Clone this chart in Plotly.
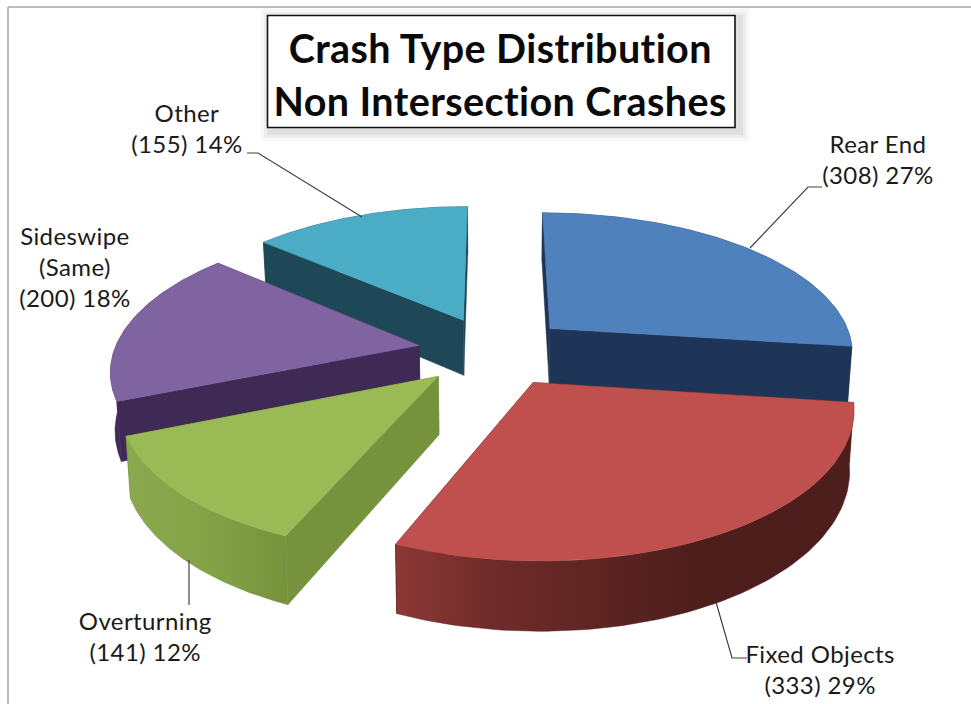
import numpy as np
import plotly.graph_objects as go

# ---- data ----
categories = ["Rear End", "Fixed Objects", "Overturning", "Sideswipe<br>(Same)", "Other"]
counts = [308, 333, 141, 200, 155]
percents = [27, 29, 12, 18, 14]
title_lines = ["Crash Type Distribution", "Non Intersection Crashes"]

# ---- styling ----
top_colors = ["#4F81BD", "#C0504D", "#99BA55", "#8064A2", "#4BACC6"]
side_colors = ["#1F3557", "#4E1E1C", "#76923C", "#3F2A56", "#1E4858"]
outer_gradients = [
    None,
    [[0, "#8C3836"], [0.2, "#702C2A"], [0.65, "#4E1E1C"], [1, "#4E1E1C"]],
    [[0, "#8AA94E"], [0.5, "#84A347"], [1, "#76923C"]],
    None,
    None,
]
draw_order = [4, 0, 3, 2, 1]
label_pos = [(878, 159), (820, 669), (145, 636), (75, 266), (187, 128)]
leaders = [
    [(822, 187), (808, 187), (750, 248)],
    [(747, 658), (732, 658), (716, 602)],
    [(189, 605), (189, 560)],
    [],
    [(247, 153), (258, 153), (362, 217)],
]

# ---- projection of the exploded 3-D pie ----
CX, CY, A, B, DEPTH, PERSP, EXPLODE = 494, 351, 305, 140, 57, 0.155, 0.25


def project(u, v, z=0.0):
    s = 1 / (1 + PERSP * v)
    shrink = 1 - 0.012 * z
    return CX + A * u * s * shrink, CY - B * v * s + DEPTH * z * s


def arc_points(t0, t1, ou, ov, z=0.0, n=80):
    t = np.linspace(t0, t1, n)
    return project(np.sin(t) + ou, np.cos(t) + ov, z)


fig = go.Figure()


def poly(x, y, color, gradient=None):
    kw = dict(
        x=list(x), y=list(y), mode="lines", fill="toself",
        line=dict(width=0.5, color=color), hoverinfo="skip", showlegend=False,
    )
    if gradient:
        kw["fillgradient"] = dict(type="horizontal", colorscale=gradient,
                                  start=float(min(x)), stop=float(max(x)))
    else:
        kw["fillcolor"] = color
    fig.add_trace(go.Scatter(**kw))


total = sum(counts)
edges = np.concatenate([[0], np.cumsum(counts)]) / total * 2 * np.pi

for i in draw_order:
    t0, t1 = edges[i], edges[i + 1]
    mid = (t0 + t1) / 2
    ou, ov = EXPLODE * np.sin(mid), EXPLODE * np.cos(mid)
    ax0, ay0 = project(ou, ov, 0)
    ax1, ay1 = project(ou, ov, 1)
    tx, ty = arc_points(t0, t1, ou, ov, 0)
    bx, by = arc_points(t0, t1, ou, ov, 1)
    # radial faces
    poly([ax0, tx[0], bx[0], ax1, ax0], [ay0, ty[0], by[0], ay1, ay0], side_colors[i])
    poly([ax0, tx[-1], bx[-1], ax1, ax0], [ay0, ty[-1], by[-1], ay1, ay0], side_colors[i])
    # outer rim
    rx = np.concatenate([tx, bx[::-1], tx[:1]])
    ry = np.concatenate([ty, by[::-1], ty[:1]])
    poly(rx, ry, side_colors[i], outer_gradients[i])
    # top
    poly(np.concatenate([[ax0], tx, [ax0]]), np.concatenate([[ay0], ty, [ay0]]), top_colors[i])

# leader lines
for pts in leaders:
    if pts:
        fig.add_trace(go.Scatter(
            x=[p[0] for p in pts], y=[p[1] for p in pts], mode="lines",
            line=dict(color="#404040", width=1.2), hoverinfo="skip", showlegend=False,
        ))

shapes = [
    dict(type="line", x0=8, x1=971, y0=7, y1=7, line=dict(color="#A6A6A6", width=1.5)),
    dict(type="line", x0=8, x1=8, y0=7, y1=704, line=dict(color="#A6A6A6", width=1.5)),
]
for grow, op in [(9, 0.03), (6, 0.04), (3, 0.06)]:
    shapes.append(dict(type="rect", x0=270 - grow, x1=740 + grow, y0=18 - grow, y1=132 + grow,
                       fillcolor="#000000", opacity=op, line=dict(width=0)))
shapes.append(dict(type="rect", x0=267.5, x1=735, y0=15.5, y1=127.5, fillcolor="white",
                   line=dict(color="#111111", width=1.6)))

annotations = []
for (lx, ly), cat, n, p in zip(label_pos, categories, counts, percents):
    annotations.append(dict(
        x=lx, y=ly, xref="x", yref="y", showarrow=False, align="center",
        text=f"{cat}<br>({n}) {p}%",
        font=dict(family="Lato", size=24, color="#1a1a1a"),
    ))
for line, ty in zip(title_lines, [47, 100]):
    annotations.append(dict(
        x=500, y=ty, xref="x", yref="y", showarrow=False,
        text=f"<b>{line}</b>",
        font=dict(family="Lato", size=39.5, color="#0a0a0a"),
    ))

fig.update_layout(
    width=971, height=704, margin=dict(l=0, r=0, t=0, b=0),
    paper_bgcolor="white", plot_bgcolor="white", showlegend=False,
    xaxis=dict(range=[0, 971], visible=False, fixedrange=True),
    yaxis=dict(range=[704, 0], visible=False, fixedrange=True),
    shapes=shapes, annotations=annotations,
)
post = ("document.body.style.margin='0';"
        "var st=document.createElement('style');"
        "st.textContent='text{letter-spacing:0.4px;font-variant-ligatures:none}';"
        "document.head.appendChild(st);")
fig.write_html("out.html", config=dict(displayModeBar=False), post_script=post)
